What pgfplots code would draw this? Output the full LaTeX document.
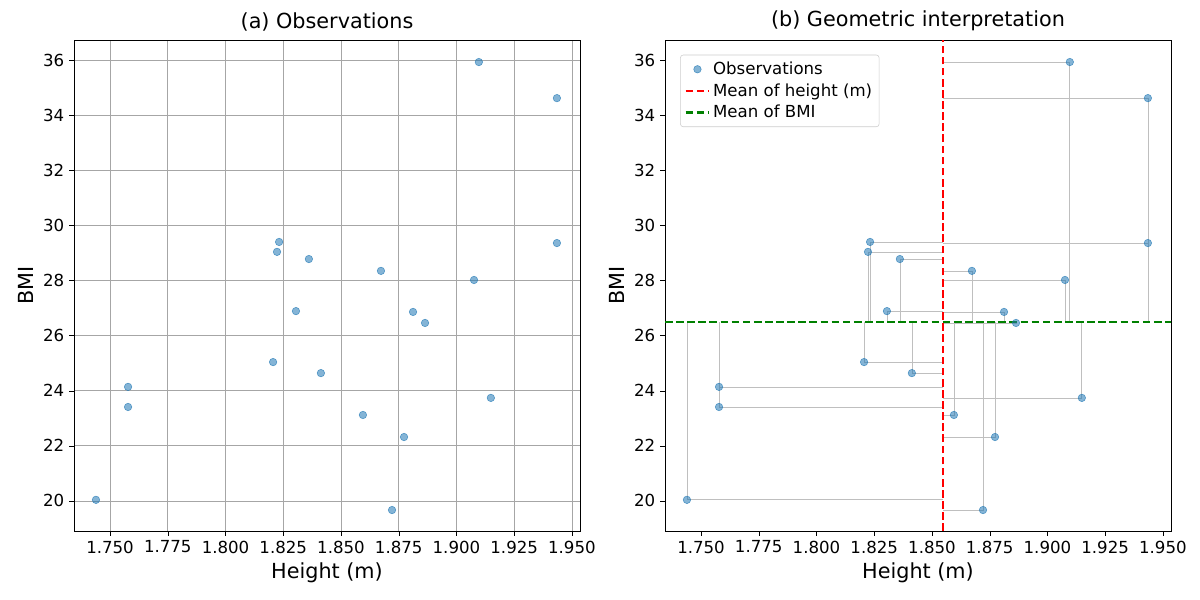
\documentclass[border=0pt]{standalone}
\usepackage{fontspec}
\setmainfont{DejaVu Sans}
\usepackage{pgfplots}
\pgfplotsset{compat=1.18}
\usepackage{pgfplotstable}
\definecolor{mblue}{HTML}{1F77B4}
\pgfplotstableread{
x y
1.7439 20.04
1.7578 24.14
1.7578 23.41
1.8206 25.04
1.8223 29.04
1.8232 29.40
1.8305 26.89
1.8361 28.78
1.8413 24.64
1.8595 23.12
1.8673 28.35
1.8721 19.67
1.8773 22.32
1.8812 26.86
1.8864 26.46
1.9076 28.02
1.9097 35.93
1.9149 23.74
1.9435 29.36
1.9435 34.62
}\data
\pgfplotsset{
  every axis/.style={},
  myax/.style={
    scale only axis, width=364.3bp, height=353.5bp,
    xmin=1.7344, xmax=1.9535, ymin=18.91, ymax=36.73,
    xtick={1.75,1.775,1.8,1.825,1.85,1.875,1.9,1.925,1.95},
    ytick={20,22,24,26,28,30,32,34,36},
    xticklabel style={/pgf/number format/.cd,fixed,fixed zerofill,precision=3},
    /pgf/number format/assume math mode=true,
    tick label style={font=\fontsize{12}{14}\selectfont},
    label style={font=\fontsize{15}{18}\selectfont},
    title style={font=\fontsize{15}{18}\selectfont, yshift=-3pt},
    xlabel={Height (m)}, ylabel={BMI},
    tick align=outside, tick style={black}, major tick length=3.5bp,
    xtick pos=bottom, ytick pos=left,
  },
  pts/.style={only marks, mark=*, mark size=2.7bp, mark options={fill=mblue, draw=mblue, fill opacity=0.55, draw opacity=0.7}},
}
\begin{document}
\begin{tikzpicture}
\path[use as bounding box] (0,0) rectangle (864bp,432bp);
\begin{axis}[myax, at={(53.3bp,49.7bp)}, anchor=south west,
  title={(a) Observations}, grid=major, grid style={gray!70, line width=0.6pt}]
\addplot[pts] table[x=x,y=y] {\data};
\end{axis}
\begin{axis}[myax, at={(478.8bp,49.7bp)}, anchor=south west,
  title={(b) Geometric interpretation}, unbounded coords=jump,
  legend pos=north west, legend cell align=left,
  legend style={font=\fontsize{12}{14}\selectfont, draw=gray!40, rounded corners=2pt, inner sep=3pt, row sep=1pt}]
\addplot[gray!50, line width=0.5pt, forget plot] coordinates {
(1.8547,20.04)(1.7439,20.04)(1.7439,26.5)(nan,nan)
(1.8547,24.14)(1.7578,24.14)(1.7578,26.5)(nan,nan)
(1.8547,23.41)(1.7578,23.41)(1.7578,26.5)(nan,nan)
(1.8547,25.04)(1.8206,25.04)(1.8206,26.5)(nan,nan)
(1.8547,29.04)(1.8223,29.04)(1.8223,26.5)(nan,nan)
(1.8547,29.40)(1.8232,29.40)(1.8232,26.5)(nan,nan)
(1.8547,26.89)(1.8305,26.89)(1.8305,26.5)(nan,nan)
(1.8547,28.78)(1.8361,28.78)(1.8361,26.5)(nan,nan)
(1.8547,24.64)(1.8413,24.64)(1.8413,26.5)(nan,nan)
(1.8547,23.12)(1.8595,23.12)(1.8595,26.5)(nan,nan)
(1.8547,28.35)(1.8673,28.35)(1.8673,26.5)(nan,nan)
(1.8547,19.67)(1.8721,19.67)(1.8721,26.5)(nan,nan)
(1.8547,22.32)(1.8773,22.32)(1.8773,26.5)(nan,nan)
(1.8547,26.86)(1.8812,26.86)(1.8812,26.5)(nan,nan)
(1.8547,26.46)(1.8864,26.46)(1.8864,26.5)(nan,nan)
(1.8547,28.02)(1.9076,28.02)(1.9076,26.5)(nan,nan)
(1.8547,35.93)(1.9097,35.93)(1.9097,26.5)(nan,nan)
(1.8547,23.74)(1.9149,23.74)(1.9149,26.5)(nan,nan)
(1.8547,29.36)(1.9435,29.36)(1.9435,26.5)(nan,nan)
(1.8547,34.62)(1.9435,34.62)(1.9435,26.5)
};
\addplot[pts] table[x=x,y=y] {\data};
\addlegendentry{Observations}
\addplot[red, dashed, line width=1.5pt, dash pattern=on 5.5bp off 2.5bp] coordinates {(1.8547,18.91)(1.8547,36.73)};
\addlegendentry{Mean of height (m)}
\addplot[green!50!black, dashed, line width=1.5pt, dash pattern=on 5.5bp off 2.5bp] coordinates {(1.7344,26.5)(1.9535,26.5)};
\addlegendentry{Mean of BMI}
\end{axis}
\end{tikzpicture}
\end{document}
